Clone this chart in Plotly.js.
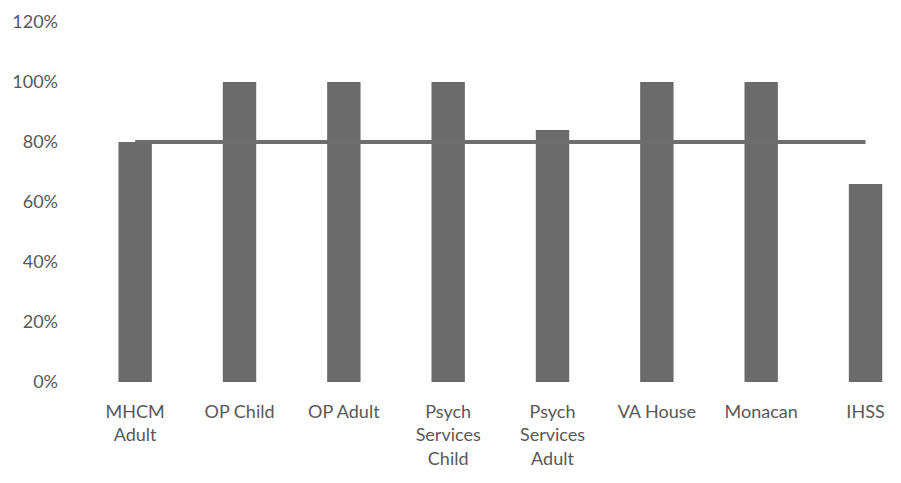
<!DOCTYPE html>
<html><head><meta charset="utf-8">
<script src="https://cdn.plot.ly/plotly-3.0.1.min.js"></script>
<style>html,body{margin:0;padding:0;background:#fff}#chart{width:901px;height:483px}</style>
</head><body><div id="chart"></div>
<script>
const categories = ["MHCM<br>Adult","OP Child","OP Adult","Psych<br>Services<br>Child","Psych<br>Services<br>Adult","VA House","Monacan","IHSS"];
const actualValues = [80, 100, 100, 100, 84, 100, 100, 66];
const targetValues = [80, 80, 80, 80, 80, 80, 80, 80];
const yTickValues = [0, 20, 40, 60, 80, 100, 120];
const yTickLabels = ["0%", "20%", "40%", "60%", "80%", "100%", "120%"];

const traces = [
  {type:'bar', x:categories, y:actualValues, marker:{color:'#6b6b6b'}, name:'Actual', hoverinfo:'skip'},
  {type:'scatter', mode:'lines', x:categories, y:targetValues, line:{color:'#6e6e6e', width:4}, name:'Target', hoverinfo:'skip'}
];
const layout = {
  width:901, height:483,
  margin:{l:83, r:0, t:22, b:101},
  paper_bgcolor:'#fff', plot_bgcolor:'#fff',
  showlegend:false,
  bargap:0.68,
  font:{family:'Lato, "Open Sans", sans-serif', size:18, color:'#595959'},
  xaxis:{type:'category', range:[-0.5, 7.34], showgrid:false, zeroline:false, showline:false, ticks:'', ticklabelstandoff:17, tickfont:{size:18, color:'#595959'}},
  yaxis:{range:[0,120], tickvals:yTickValues, ticktext:yTickLabels, showgrid:false, zeroline:false, showline:false, ticks:'', ticklabelstandoff:24, tickfont:{size:18, color:'#595959'}}
};
Plotly.newPlot('chart', traces, layout, {staticPlot:true, displayModeBar:false});
</script></body></html>
